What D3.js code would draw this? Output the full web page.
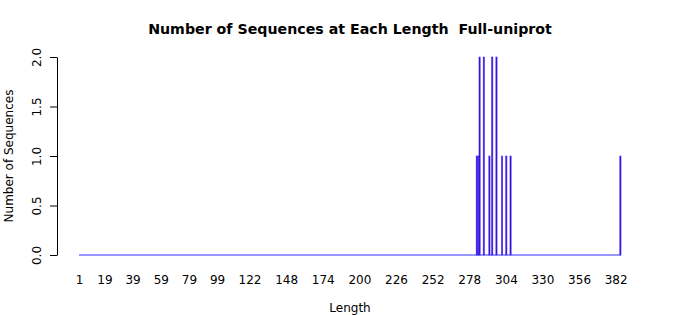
<!DOCTYPE html>
<html>
<head>
<meta charset="utf-8">
<script src="https://cdn.jsdelivr.net/npm/d3@7"></script>
<style>
  body { margin: 0; background: #fff; }
  text { font-family: "DejaVu Sans", sans-serif; }
</style>
</head>
<body>
<svg width="700" height="315"></svg>
<script>
// lengths 1..385, counts (all others are zero)
var maxLength = 385
var seqLengths = [283, 284, 285, 288, 292, 294, 297, 301, 304, 307, 385]
var seqCounts  = [1,   1,   2,   2,   1,   2,   2,   1,   1,   1,   1]
var tickLabels = ["1","19","39","59","79","99","122","148","174","200","226","252","278","304","330","356","382"]
var yTicks = [0, 0.5, 1, 1.5, 2]

var lengths = d3.range(1, maxLength + 1)
var countOf = {}
seqLengths.forEach(function(l, i){ countOf[l] = seqCounts[i] })

var svg = d3.select('svg')

var x = d3.scaleBand()
  .domain(lengths)
  .range([79, 621])
  .paddingInner(0.2 / 1.2)
  .paddingOuter(0)

var y = d3.scaleLinear().domain([0, 2]).range([255, 57])

// baseline (zero height bars only show their border in R)
svg.append('line')
  .attr('x1', x.range()[0]).attr('x2', x.range()[1])
  .attr('y1', y(0)).attr('y2', y(0))
  .attr('stroke', '#3030ff').attr('stroke-width', 1.2)

svg.selectAll('rect.bar')
  .data(lengths.filter(function(l){ return countOf[l] > 0 }))
  .enter()
  .append('rect')
  .attr('class', 'bar')
  .attr('x', function(d){ return x(d) })
  .attr('width', x.bandwidth())
  .attr('y', function(d){ return y(countOf[d]) })
  .attr('height', function(d){ return y(0) - y(countOf[d]) })
  .attr('fill', '#4800b0')
  .attr('stroke', '#3a2aff')
  .attr('stroke-width', 0.6)

// x labels (bar names that R had room for)
svg.selectAll('text.xl')
  .data(tickLabels)
  .enter()
  .append('text')
  .attr('class', 'xl')
  .attr('x', function(d){ return x(+d) + x.bandwidth() / 2 })
  .attr('y', 284)
  .attr('text-anchor', 'middle')
  .attr('font-size', 12)
  .attr('fill', '#000')
  .text(function(d){ return d })

// y axis
var yAxis = svg.append('g')
  .attr('transform', 'translate(57,0)')
  .call(d3.axisLeft(y).tickValues(yTicks).tickFormat(d3.format('.1f')).tickSize(7).tickSizeOuter(0))
yAxis.select('.domain').attr('stroke', '#000')
yAxis.selectAll('.tick line').attr('stroke', '#000')
yAxis.selectAll('.tick text')
  .attr('font-family', '"DejaVu Sans", sans-serif')
  .attr('font-size', 12)
  .attr('fill', '#000')
  .attr('transform', 'rotate(-90)')
  .attr('x', 0)
  .attr('y', -16)
  .attr('dy', 0)
  .attr('text-anchor', 'middle')

// titles
svg.append('text')
  .attr('x', 350).attr('y', 34)
  .attr('text-anchor', 'middle')
  .attr('font-size', 14.2).attr('font-weight', 'bold')
  .style('white-space', 'pre')
  .text('Number of Sequences at Each Length  Full-uniprot')

svg.append('text')
  .attr('x', 350).attr('y', 312)
  .attr('text-anchor', 'middle')
  .attr('font-size', 12)
  .text('Length')

svg.append('text')
  .attr('transform', 'translate(13,156) rotate(-90)')
  .attr('text-anchor', 'middle')
  .attr('font-size', 12)
  .text('Number of Sequences')
</script>
</body>
</html>
